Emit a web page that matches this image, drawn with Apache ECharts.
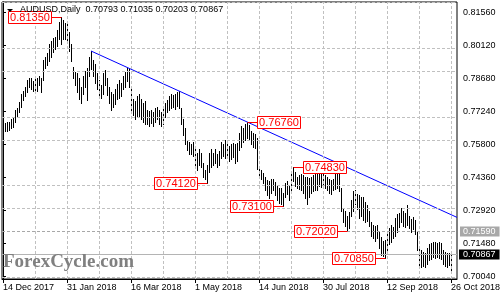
<!DOCTYPE html>
<html><head><meta charset="utf-8">
<script src="https://cdn.jsdelivr.net/npm/echarts@6/dist/echarts.min.js"></script>
<style>html,body{margin:0;padding:0;background:#fff}#c{width:500px;height:300px}</style>
</head><body><div id="c"></div>
<script>
// ---------- data ----------
const symbolName = 'AUDUSD,Daily';
const lastBar = [0.70793, 0.71035, 0.70203, 0.70867]; // O H L C
const dateLabels = ['14 Dec 2017','31 Jan 2018','16 Mar 2018','1 May 2018','14 Jun 2018','30 Jul 2018','12 Sep 2018','26 Oct 2018'];
const dateLabelIndex = [0,32,64,96,128,160,192,224];
const priceTicks = [0.70040,0.71480,0.72920,0.74360,0.75800,0.77240,0.78680,0.80120,0.81560];
const highs = [
0.7680,0.7675,0.7680,0.7680,0.7690,0.7700,0.7730,0.7740,0.7765,0.7800,
0.7815,0.7830,0.7860,0.7870,0.7870,0.7855,0.7865,0.7870,0.7880,0.7870,
0.7950,0.7960,0.7980,0.8020,0.8030,0.8045,0.8050,0.8080,0.8115,0.8135,
0.8125,0.8110,0.8120,0.8070,0.8020,0.7920,0.7895,0.7890,0.7870,0.7830,
0.7880,0.7900,0.7915,0.7960,0.7988,0.7950,0.7930,0.7890,0.7860,0.7840,
0.7890,0.7905,0.7870,0.7830,0.7810,0.7800,0.7820,0.7845,0.7860,0.7850,
0.7880,0.7895,0.7915,0.7910,0.7830,0.7780,0.7770,0.7790,0.7800,0.7780,
0.7760,0.7770,0.7730,0.7725,0.7730,0.7720,0.7740,0.7745,0.7730,0.7720,
0.7735,0.7760,0.7775,0.7790,0.7800,0.7795,0.7800,0.7810,0.7815,0.7740,
0.7690,0.7650,0.7600,0.7590,0.7580,0.7590,0.7560,0.7545,0.7560,0.7545,
0.7500,0.7470,0.7490,0.7545,0.7560,0.7545,0.7560,0.7540,0.7550,0.7590,
0.7580,0.7600,0.7580,0.7575,0.7580,0.7585,0.7580,0.7585,0.7630,0.7660,
0.7650,0.7670,0.7676,0.7665,0.7640,0.7630,0.7625,0.7610,0.7480,0.7470,
0.7455,0.7440,0.7425,0.7420,0.7430,0.7430,0.7415,0.7400,0.7390,0.7390,
0.7370,0.7410,0.7420,0.7400,0.7450,0.7483,0.7460,0.7440,0.7445,0.7450,
0.7445,0.7440,0.7440,0.7435,0.7440,0.7445,0.7450,0.7455,0.7460,0.7455,
0.7450,0.7445,0.7440,0.7430,0.7425,0.7430,0.7450,0.7455,0.7455,0.7390,
0.7300,0.7290,0.7270,0.7285,0.7340,0.7375,0.7383,0.7365,0.7360,0.7350,
0.7350,0.7330,0.7315,0.7290,0.7240,0.7230,0.7225,0.7230,0.7200,0.7175,
0.7160,0.7165,0.7190,0.7215,0.7230,0.7220,0.7260,0.7275,0.7280,0.7304,
0.7290,0.7280,0.7314,0.7270,0.7255,0.7265,0.7250,0.7200,0.7125,0.7120,
0.7110,0.7105,0.7130,0.7145,0.7150,0.7155,0.7155,0.7150,0.7155,0.7150,
0.7120,0.7110,0.7105,0.7105,0.71035];
const lows = [
0.7625,0.7640,0.7640,0.7645,0.7650,0.7655,0.7680,0.7700,0.7720,0.7745,
0.7775,0.7790,0.7810,0.7830,0.7820,0.7815,0.7805,0.7815,0.7840,0.7810,
0.7860,0.7915,0.7925,0.7945,0.7960,0.7985,0.7995,0.8010,0.8040,0.8020,
0.8040,0.8040,0.8030,0.7990,0.7945,0.7870,0.7840,0.7810,0.7780,0.7760,
0.7800,0.7830,0.7775,0.7880,0.7910,0.7880,0.7850,0.7820,0.7790,0.7785,
0.7800,0.7840,0.7795,0.7760,0.7730,0.7745,0.7755,0.7780,0.7785,0.7790,
0.7820,0.7830,0.7855,0.7830,0.7730,0.7710,0.7690,0.7700,0.7705,0.7690,
0.7680,0.7670,0.7670,0.7660,0.7675,0.7660,0.7680,0.7690,0.7670,0.7660,
0.7670,0.7700,0.7720,0.7730,0.7740,0.7745,0.7735,0.7750,0.7740,0.7670,
0.7620,0.7580,0.7555,0.7540,0.7540,0.7530,0.7490,0.7470,0.7490,0.7480,
0.7440,0.7430,0.7412,0.7460,0.7480,0.7490,0.7500,0.7480,0.7490,0.7520,
0.7530,0.7520,0.7520,0.7510,0.7515,0.7525,0.7500,0.7510,0.7555,0.7570,
0.7590,0.7600,0.7610,0.7600,0.7580,0.7570,0.7565,0.7475,0.7440,0.7430,
0.7410,0.7380,0.7360,0.7345,0.7370,0.7380,0.7360,0.7340,0.7325,0.7320,
0.7310,0.7350,0.7365,0.7340,0.7380,0.7420,0.7400,0.7390,0.7385,0.7380,
0.7370,0.7345,0.7320,0.7350,0.7370,0.7375,0.7380,0.7380,0.7400,0.7395,
0.7400,0.7390,0.7380,0.7370,0.7365,0.7380,0.7385,0.7390,0.7375,0.7290,
0.7240,0.7225,0.7202,0.7215,0.7270,0.7290,0.7320,0.7300,0.7260,0.7270,
0.7250,0.7240,0.7245,0.7225,0.7180,0.7170,0.7160,0.7170,0.7130,0.7100,
0.7095,0.7085,0.7115,0.7145,0.7155,0.7170,0.7180,0.7200,0.7220,0.7240,
0.7225,0.7220,0.7230,0.7215,0.7200,0.7210,0.7190,0.7120,0.7055,0.7045,
0.7050,0.7045,0.7060,0.7075,0.7080,0.7090,0.7085,0.7090,0.7085,0.7080,
0.7060,0.7050,0.7045,0.7055,0.70203];
const swingIdx = [29, 102, 122, 140, 145, 172, 191];
const swingVal = [0.81350, 0.74120, 0.76760, 0.73100, 0.74830, 0.72020, 0.70850];
const trendIdx = [44, 227];
const trendVal = [0.7988, 0.7262];
const levelVal = 0.71590;
const bidVal = lastBar[3];

// ---------- layout / style ----------
const swingSide = [-1, -1, 1, -1, 1, -1, -1];
const FONT = '"Liberation Sans", Arial, sans-serif';
const fmt = v => Number(v).toFixed(5);
const gridIdx = []; for (let i = 16; i <= 224; i += 16) gridIdx.push(i);
const bars = highs.map((h, i) => [i, h, lows[i]]);

const chart = echarts.init(document.getElementById('c'), null, {renderer: 'canvas'});
chart.setOption({
  animation: false,
  backgroundColor: '#fff',
  title: {
    text: symbolName + '  ' + lastBar.map(fmt).join(' '),
    left: 20, top: 5, padding: 0,
    textStyle: {fontSize: 9, fontWeight: 'normal', color: '#000', fontFamily: FONT}
  },
  graphic: [
    {type: 'polygon', shape: {points: [[7, 9], [13, 9], [10, 12]]}, style: {fill: '#000'}, z: 10},
    {type: 'text', left: 3, top: 253, style: {text: 'ForexCycle.com', font: 'bold 19px "Liberation Serif", serif', fill: '#808080'}, z: 10}
  ],
  grid: {left: 2, right: 43, top: 2, bottom: 21, show: true, borderColor: '#000', borderWidth: 1, outerBoundsMode: 'none', containLabel: false},
  xAxis: {
    type: 'value', min: -0.5, max: 227,
    axisLine: {show: true, lineStyle: {color: '#000'}},
    axisTick: {show: true, length: 4, lineStyle: {color: '#000'}, customValues: dateLabelIndex},
    axisLabel: {customValues: dateLabelIndex, formatter: v => dateLabels[dateLabelIndex.indexOf(Math.round(v))] || '',
      align: 'left', margin: 4, fontSize: 9, color: '#000', fontFamily: FONT, showMinLabel: true, showMaxLabel: true},
    splitLine: {show: false}
  },
  yAxis: {
    type: 'value', position: 'right', min: 0.69931, max: 0.82018, scale: true,
    axisLine: {show: true, lineStyle: {color: '#000'}},
    axisTick: {show: true, length: 3, lineStyle: {color: '#000'}, customValues: priceTicks},
    axisLabel: {customValues: priceTicks, formatter: fmt, margin: 6, fontSize: 9, color: '#000', fontFamily: FONT},
    splitLine: {show: false}
  },
  series: [
    {
      type: 'line', data: [], silent: true, z: 1,
      markLine: {
        symbol: 'none', silent: true, animation: false, label: {show: false},
        lineStyle: {color: '#c0c0c0', type: [3, 2], width: 1},
        data: priceTicks.map(v => ({yAxis: v})).concat(gridIdx.map(i => ({xAxis: i})))
      }
    },
    {
      type: 'line', data: [], silent: true, z: 2,
      markLine: {
        symbol: 'none', silent: true, animation: false,
        data: [
          {yAxis: levelVal, lineStyle: {color: '#a8a8a8', type: [3, 2], width: 1},
           label: {show: true, position: 'end', distance: 3, formatter: () => fmt(levelVal), color: '#fff',
             backgroundColor: '#a8a8a8', padding: [1, 4, 0, 3], fontSize: 9, fontFamily: FONT}},
          {yAxis: bidVal, lineStyle: {color: '#b4b4b4', type: 'solid', width: 1},
           label: {show: true, position: 'end', distance: 2, formatter: () => fmt(bidVal), color: '#fff',
             backgroundColor: '#000', padding: [1, 4, 0, 4], fontSize: 9, fontFamily: FONT}}
        ]
      }
    },
    {
      type: 'custom', z: 3, data: bars, silent: true,
      renderItem: (params, api) => {
        const a = api.coord([api.value(0), api.value(1)]);
        const b = api.coord([api.value(0), api.value(2)]);
        const x = Math.round(a[0]) + 0.5;
        return {type: 'line', shape: {x1: x, y1: Math.round(a[1]), x2: x, y2: Math.round(b[1]) + 1},
          style: {stroke: '#000', lineWidth: 1}};
      }
    },
    {
      type: 'line', z: 4, silent: true, symbol: 'none',
      data: trendIdx.map((v, i) => [v, trendVal[i]]),
      lineStyle: {color: '#0000ff', width: 1}
    },
    {
      type: 'custom', z: 5, silent: true,
      data: swingIdx.map((v, i) => [v, swingVal[i]]),
      renderItem: (params, api) => {
        const p = api.coord([api.value(0), api.value(1)]);
        const x = Math.round(p[0]) + 0.5, y = Math.round(p[1]) + 0.5;
        const side = swingSide[params.dataIndex], gap = 10, w = 43, h = 12;
        const x2 = x + side * gap;
        const bx = side < 0 ? x2 - w : x2;
        return {type: 'group', children: [
          {type: 'line', shape: {x1: x, y1: y, x2: x2, y2: y}, style: {stroke: '#ff0000', lineWidth: 1}},
          {type: 'rect', shape: {x: bx, y: y - h / 2, width: w, height: h}, style: {fill: '#fff', stroke: '#ff0000', lineWidth: 1}},
          {type: 'text', x: bx + w / 2, y: y + 0.5, style: {text: fmt(api.value(1)), fill: '#ff0000',
            font: '11px "Liberation Sans", Arial, sans-serif', align: 'center', verticalAlign: 'middle'}}
        ]};
      }
    }
  ]
});
</script>
</body></html>
